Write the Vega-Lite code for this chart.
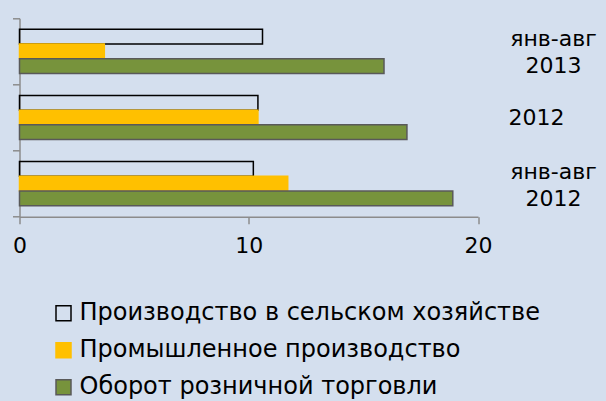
{
  "$schema": "https://vega.github.io/schema/vega-lite/v6.json",
  "width": 458.5,
  "height": 198.4,
  "autosize": "none",
  "padding": {"left": 19.5, "top": 18.3, "right": 128, "bottom": 184.3},
  "background": "#D4DFEE",
  "config": {"view": {"stroke": null}, "font": "DejaVu Sans"},
  "data": {
    "values": [
      {"period": "янв-авг 2013", "indicator": "Производство в сельском хозяйстве", "value": 10.6},
      {"period": "янв-авг 2013", "indicator": "Промышленное производство", "value": 3.7},
      {"period": "янв-авг 2013", "indicator": "Оборот розничной торговли", "value": 15.9},
      {"period": "2012", "indicator": "Производство в сельском хозяйстве", "value": 10.4},
      {"period": "2012", "indicator": "Промышленное производство", "value": 10.4},
      {"period": "2012", "indicator": "Оборот розничной торговли", "value": 16.9},
      {"period": "янв-авг 2012", "indicator": "Производство в сельском хозяйстве", "value": 10.2},
      {"period": "янв-авг 2012", "indicator": "Промышленное производство", "value": 11.7},
      {"period": "янв-авг 2012", "indicator": "Оборот розничной торговли", "value": 18.9}
    ]
  },
  "layer": [
    {
      "mark": {"type": "bar", "strokeWidth": 1.5},
      "encoding": {
        "y": {
          "field": "period", "type": "nominal",
          "sort": ["янв-авг 2013", "2012", "янв-авг 2012"],
          "scale": {"paddingInner": 0, "paddingOuter": 0},
          "axis": {"orient": "left", "labels": false, "title": null, "tickBand": "extent",
                   "domainColor": "#8c8c8c", "tickColor": "#8c8c8c", "tickSize": 7,
                   "domainWidth": 1.5, "tickWidth": 1.5}
        },
        "yOffset": {
          "field": "indicator", "type": "nominal",
          "sort": ["Производство в сельском хозяйстве", "Промышленное производство", "Оборот розничной торговли"],
          "scale": {"paddingInner": 0, "paddingOuter": 0.75}
        },
        "x": {
          "field": "value", "type": "quantitative",
          "scale": {"domain": [0, 20], "nice": false},
          "axis": {"values": [0, 10, 20], "grid": false, "title": null, "domainColor": "#8c8c8c",
                   "tickColor": "#8c8c8c", "tickSize": 7, "domainWidth": 1.5, "tickWidth": 1.5,
                   "labelFontSize": 22, "labelColor": "#000000", "labelPadding": 12, "labelFlush": false}
        },
        "fill": {
          "field": "indicator", "type": "nominal",
          "scale": {"domain": ["Производство в сельском хозяйстве", "Промышленное производство", "Оборот розничной торговли"],
                    "range": ["rgba(0,0,0,0)", "#FFC000", "#77933C"]},
          "legend": {"title": null, "orient": "none", "legendX": 32, "legendY": 283, "symbolType": "square",
                     "symbolSize": 225, "symbolStrokeWidth": 1.5, "labelFontSize": 24, "labelColor": "#000000",
                     "labelLimit": 600, "rowPadding": 13, "labelOffset": 4}
        },
        "stroke": {
          "field": "indicator", "type": "nominal",
          "scale": {"domain": ["Производство в сельском хозяйстве", "Промышленное производство", "Оборот розничной торговли"],
                    "range": ["#000000", "#FFC000", "#595959"]},
          "legend": {"title": null, "orient": "none", "legendX": 32, "legendY": 283, "symbolType": "square",
                     "symbolSize": 225, "symbolStrokeWidth": 1.5, "labelFontSize": 24, "labelColor": "#000000",
                     "labelLimit": 600, "rowPadding": 13, "labelOffset": 4}
        }
      }
    },
    {
      "mark": {"type": "bar", "opacity": 0},
      "encoding": {
        "y": {
          "field": "period", "type": "nominal",
          "sort": ["янв-авг 2013", "2012", "янв-авг 2012"],
          "axis": {"orient": "right", "title": null, "domain": false, "ticks": false,
                   "labelExpr": "split(datum.value, ' ')", "labelAlign": "center", "labelBaseline": "middle",
                   "labelFontSize": 22, "labelColor": "#000000", "labelLineHeight": 27, "labelLimit": 300,
                   "labelOffset": {"condition": {"test": "datum.value === '2012'", "value": 0}, "value": -12},
                   "labelPadding": {"condition": {"test": "datum.value === '2012'", "value": 58}, "value": 75}}
        },
        "x": {"field": "value", "type": "quantitative"}
      }
    }
  ],
  "resolve": {"axis": {"y": "independent"}}
}
